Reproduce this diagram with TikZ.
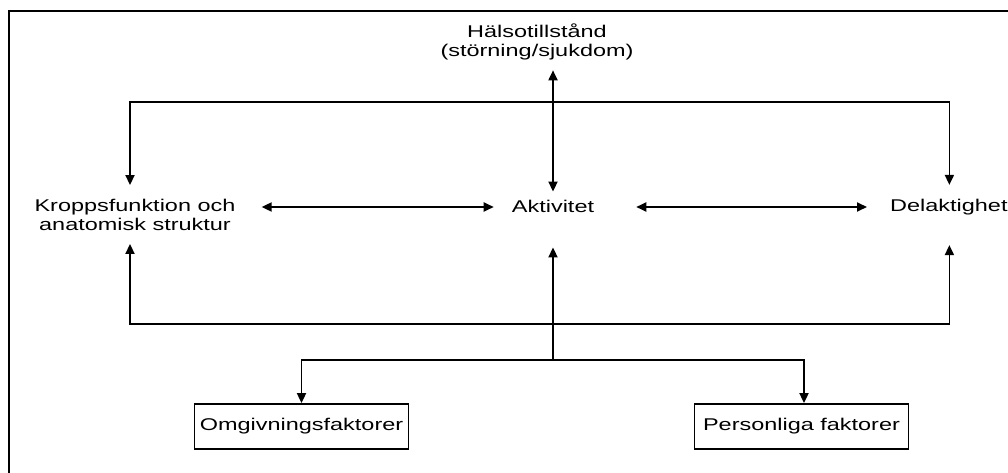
\documentclass[tikz,border=0pt]{standalone}
\usepackage{fontspec}
\setmainfont{Liberation Sans}[FakeStretch=1.38]
\usetikzlibrary{arrows.meta}
\newcommand\lbfont{\fontsize{17}{19}\selectfont}
\tikzset{
  lbl/.style={font=\lbfont, inner sep=0pt, align=center},
  fbox/.style={draw, line width=1.8pt, minimum width=214pt, minimum height=45pt, inner sep=0pt, font=\lbfont},
  con/.style={line width=1.8pt},
  tip/.style={-{Triangle[length=10pt,width=9pt]}},
  dtip/.style={{Triangle[length=10pt,width=9pt]}-{Triangle[length=10pt,width=9pt]}},
  frame/.style={line width=1.3pt}
}
\begin{document}
\begin{tikzpicture}[x=1pt,y=-1pt]
\useasboundingbox (0,0) rectangle (1008,473);
\draw[frame] (9,473) -- (9,11) -- (1008,11);

\node[lbl] (hal) at (537,42) {Hälsotillstånd\\(störning/sjukdom)};
\node[lbl] (kf) at (135,215) {Kroppsfunktion och\\anatomisk struktur};
\node[lbl] (akt) at (553,206) {Aktivitet};
\node[lbl, anchor=west] (del) at (890,207) {Delaktighet};
\node[fbox] (omg) at (301.5,426.5) {Omgivningsfaktorer};
\node[fbox] (pers) at (801.5,426.5) {Personliga faktorer};

\coordinate (topY) at (0,102);
\coordinate (midY) at (0,324);
\coordinate (lowY) at (0,360);
\path (kf.north) ++(-5,-14) coordinate (kfN);
\path (kf.south) ++(-5,13) coordinate (kfS);
\path (del.north) ++(0.5,-14) coordinate (delN);
\path (del.south) ++(0.5,30) coordinate (delS);
\path (akt.south) ++(0,35) coordinate (aktS);
\path (akt.north) ++(0,-8) coordinate (aktN);
\path (hal.south -| akt) ++(0,10) coordinate (halS);
\path (kf.east |- akt) ++(26,1) coordinate (kfE);
\path (akt.west) ++(-18,1) coordinate (aktW);
\path (akt.east) ++(42,1) coordinate (aktE);
\path (del.west) ++(-23,0) coordinate (delW);
\path (pers.north) ++(2.5,0) coordinate (persN);

\draw[con,dtip] (halS) -- (aktN);
\draw[con,dtip] (kfE) -- (aktW);
\draw[con,dtip] (aktE) -- (delW);
\draw[con,dtip] (kfN) -- (kfN |- topY) -- (delN |- topY) -- (delN);
\draw[con,dtip] (kfS) -- (kfS |- midY) -- (delS |- midY) -- (delS);
\draw[con,tip] (akt |- lowY) -- (aktS);
\draw[con,dtip] (omg.north) -- (omg.north |- lowY) -- (persN |- lowY) -- (persN);
\end{tikzpicture}
\end{document}
